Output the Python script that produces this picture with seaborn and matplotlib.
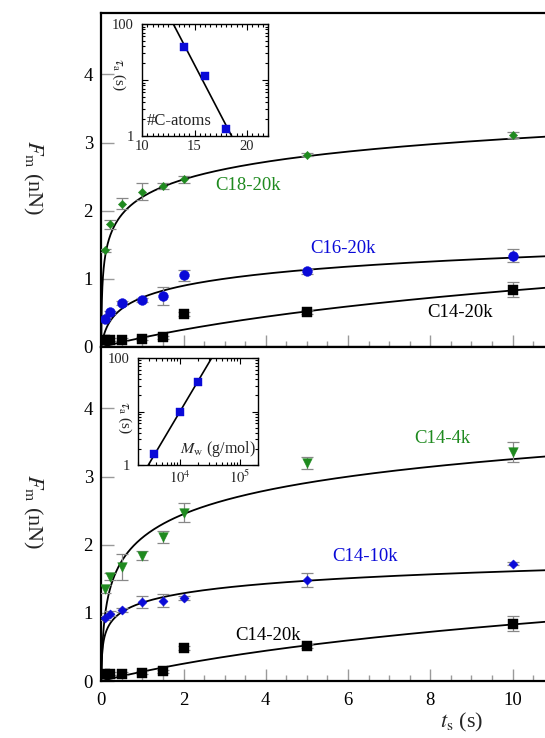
import numpy as np
import pandas as pd
import matplotlib
matplotlib.use("Agg")
import matplotlib.pyplot as plt
import seaborn as sns
from matplotlib.ticker import MultipleLocator, FixedLocator, LogLocator, NullFormatter, FixedFormatter

sns.set_theme(style="ticks")
plt.rcParams['font.family'] = ['Liberation Serif', 'DejaVu Serif']
plt.rcParams['mathtext.fontset'] = 'stix'

# ---------------- data ----------------
t_s = [0.1, 0.2, 0.5, 1.0, 1.5, 2.0, 5.0, 10.0]

c18_20k = [1.42, 1.80, 2.10, 2.28, 2.36, 2.46, 2.82, 3.11]
c18_20k_err = [0.02, 0.07, 0.08, 0.12, 0.04, 0.05, 0.02, 0.05]
c16_20k = [0.41, 0.51, 0.64, 0.69, 0.75, 1.05, 1.11, 1.34]
c16_20k_err = [0.02, 0.02, 0.03, 0.03, 0.13, 0.08, 0.04, 0.10]
c14_20k = [0.10, 0.11, 0.11, 0.12, 0.14, 0.48, 0.51, 0.84]
c14_20k_err = [0.02, 0.02, 0.02, 0.02, 0.02, 0.03, 0.03, 0.11]
c14_4k = [1.35, 1.53, 1.67, 1.84, 2.11, 2.47, 3.20, 3.36]
c14_4k_err = [0.06, 0.05, 0.19, 0.06, 0.09, 0.14, 0.09, 0.15]
c14_10k = [0.93, 0.99, 1.04, 1.16, 1.18, 1.22, 1.48, 1.72]
c14_10k_err = [0.03, 0.03, 0.03, 0.09, 0.09, 0.03, 0.10, 0.02]

# fit parameters F = a * ln(1 + t/t0)
fit_c18_20k = (0.372, 0.0027)
fit_c16_20k = (0.26, 0.065)
fit_c14_20k = (0.755, 5.0)
fit_c14_4k = (0.503, 0.0155)
fit_c14_10k = (0.20, 0.0032)

# inset 1: tau_a vs number of C atoms
n_c = [14, 16, 18]
tau_nc = [38.4, 11.8, 1.32]
fit_nc = (2.0, 12.98, -0.36)   # log10 tau = 2 + slope*(n - 12.98)

# inset 2: tau_a vs Mw
mw = [3700, 10000, 19800]
tau_mw = [1.58, 9.8, 35.0]
fit_mw = (1.894, 3.473)        # log10 tau = s*(log10 Mw - m0)

green = '#1f8a1f'
blue = '#0a0ad8'
black = '#000000'
ebar = '#888888'

W, H = 545, 738
fig = plt.figure(figsize=(W / 100, H / 100), dpi=100)
fig.patch.set_facecolor('white')

left = 101.3 / W
ax_top = fig.add_axes([left, 1 - 347 / H, 1 - left, 334 / H])
ax_bot = fig.add_axes([left, 1 - 681 / H, 1 - left, 334 / H])

tcurve = np.concatenate([[0.0], np.logspace(-4, np.log10(11.0), 600)])


def fcurve(p):
    a, t0 = p
    return a * np.log(1 + tcurve / t0)


def draw_series(ax, vals, err, marker, size, color, fit):
    sns.lineplot(x=tcurve, y=fcurve(fit), ax=ax, color='black', lw=1.3,
                 estimator=None, sort=False, zorder=2)
    ax.errorbar(t_s, vals, yerr=err, fmt='none', ecolor=ebar, elinewidth=0.9,
                capsize=4, capthick=0.9, zorder=3)
    sns.scatterplot(x=t_s, y=vals, ax=ax, marker=marker, s=size, color=color,
                    edgecolor=color, linewidth=0.3, zorder=4, legend=False)


draw_series(ax_top, c14_20k, c14_20k_err, 's', 55, black, fit_c14_20k)
draw_series(ax_top, c16_20k, c16_20k_err, 'o', 50, blue, fit_c16_20k)
draw_series(ax_top, c18_20k, c18_20k_err, 'D', 18, green, fit_c18_20k)

draw_series(ax_bot, c14_20k, c14_20k_err, 's', 55, black, fit_c14_20k)
draw_series(ax_bot, c14_10k, c14_10k_err, 'D', 22, blue, fit_c14_10k)
draw_series(ax_bot, c14_4k, c14_4k_err, 'v', 48, green, fit_c14_4k)

lab_fs = 13.5
ax_top.text(3.57, 2.37, 'C18-20k', color=green, fontsize=lab_fs, ha='center', va='center')
ax_top.text(5.88, 1.44, 'C16-20k', color=blue, fontsize=lab_fs, ha='center', va='center')
ax_top.text(8.72, 0.50, 'C14-20k', color=black, fontsize=lab_fs, ha='center', va='center')
ax_bot.text(8.29, 3.56, 'C14-4k', color=green, fontsize=lab_fs, ha='center', va='center')
ax_bot.text(6.42, 1.82, 'C14-10k', color=blue, fontsize=lab_fs, ha='center', va='center')
ax_bot.text(4.06, 0.67, 'C14-20k', color=black, fontsize=lab_fs, ha='center', va='center')

for ax in (ax_top, ax_bot):
    ax.set_xlim(0, 10.79)
    ax.set_ylim(0, 4.9)
    ax.set_xlabel('')
    ax.set_ylabel('')
    ax.xaxis.set_major_locator(MultipleLocator(2))
    ax.xaxis.set_minor_locator(MultipleLocator(0.5))
    ax.yaxis.set_major_locator(FixedLocator([0, 1, 2, 3, 4]))
    ax.tick_params(which='both', direction='in', color='#9a9a9a', width=1.0,
                   top=False, right=False, labelsize=13.5, labelcolor='black')
    ax.tick_params(which='major', length=9, pad=6)
    ax.tick_params(which='minor', length=4)
    ax.spines['right'].set_visible(False)
    for s in ('left', 'top', 'bottom'):
        ax.spines[s].set_linewidth(1.6)
        ax.spines[s].set_color('black')
    ax.set_facecolor('white')
    ax.grid(False)

ax_top.tick_params(labelbottom=False)
ax_bot.tick_params(axis='x', pad=8)

fig.text(33 / W, 1 - 178 / H, r'$F_{\rm m}$ (nN)', rotation=270, fontsize=16,
         ha='center', va='center')
fig.text(33 / W, 1 - 512 / H, r'$F_{\rm m}$ (nN)', rotation=270, fontsize=16,
         ha='center', va='center')
fig.text(462 / W, 1 - 727 / H, r'$t_{\rm s}$ (s)', fontsize=16, ha='center', va='baseline')

# ---------------- insets ----------------
in1 = fig.add_axes([142 / W, 1 - 136 / H, 126 / W, 112 / H])
in2 = fig.add_axes([138 / W, 1 - 465 / H, 120 / W, 107 / H])

n_line = np.linspace(10, 22, 50)
sns.lineplot(x=n_line, y=10 ** (fit_nc[0] + fit_nc[2] * (n_line - fit_nc[1])), ax=in1,
             color='black', lw=1.2, estimator=None, sort=False)
sns.scatterplot(x=n_c, y=tau_nc, ax=in1, marker='s', s=28, color=blue, edgecolor=blue,
                linewidth=0.3, zorder=4, legend=False)
in1.set_xlim(10, 22)
in1.set_yscale('log')
in1.set_ylim(1, 100)
in1.xaxis.set_major_locator(FixedLocator([10, 15, 20]))
in1.xaxis.set_minor_locator(MultipleLocator(0.5))
in1.text(0.04, 0.13, '#C-atoms', transform=in1.transAxes, fontsize=12, ha='left', va='center')

m_line = np.logspace(np.log10(2e3), np.log10(2e5), 50)
sns.lineplot(x=m_line, y=10 ** (fit_mw[0] * (np.log10(m_line) - fit_mw[1])), ax=in2,
             color='black', lw=1.2, estimator=None, sort=False)
sns.scatterplot(x=mw, y=tau_mw, ax=in2, marker='s', s=28, color=blue, edgecolor=blue,
                linewidth=0.3, zorder=4, legend=False)
in2.set_xscale('log')
in2.set_yscale('log')
in2.set_xlim(2e3, 2e5)
in2.set_ylim(1, 100)
in2.xaxis.set_major_locator(FixedLocator([1e4, 1e5]))
in2.xaxis.set_major_formatter(FixedFormatter([r'$10^4$', r'$10^5$']))
in2.xaxis.set_minor_locator(LogLocator(base=10, subs=np.arange(2, 10)))
in2.xaxis.set_minor_formatter(NullFormatter())
in2.text(0.35, 0.15, r'$M_{\rm w}$ (g/mol)', transform=in2.transAxes, fontsize=11.5,
         ha='left', va='center')

for ia in (in1, in2):
    ia.set_xlabel('')
    ia.set_ylabel('')
    ia.yaxis.set_major_locator(FixedLocator([1, 10, 100]))
    ia.yaxis.set_major_formatter(FixedFormatter(['1', '', '100']))
    ia.yaxis.set_minor_locator(LogLocator(base=10, subs=np.arange(2, 10)))
    ia.yaxis.set_minor_formatter(NullFormatter())
    ia.tick_params(which='both', direction='in', top=True, right=True, color='black',
                   width=0.8, labelsize=10.5)
    ia.tick_params(axis='x', pad=3)
    ia.tick_params(axis='y', pad=6)
    ia.tick_params(which='major', length=4)
    ia.tick_params(which='minor', length=2)
    for s in ia.spines.values():
        s.set_linewidth(1.0)
        s.set_color('black')
    ia.set_facecolor('white')
    ia.grid(False)

fig.text(119 / W, 1 - 75 / H, r'$\tau_{\rm a}$ (s)', rotation=270, fontsize=11,
         ha='center', va='center')
fig.text(125 / W, 1 - 418 / H, r'$\tau_{\rm a}$ (s)', rotation=270, fontsize=11,
         ha='center', va='center')

fig.savefig('out.png', dpi=100, facecolor='white')
